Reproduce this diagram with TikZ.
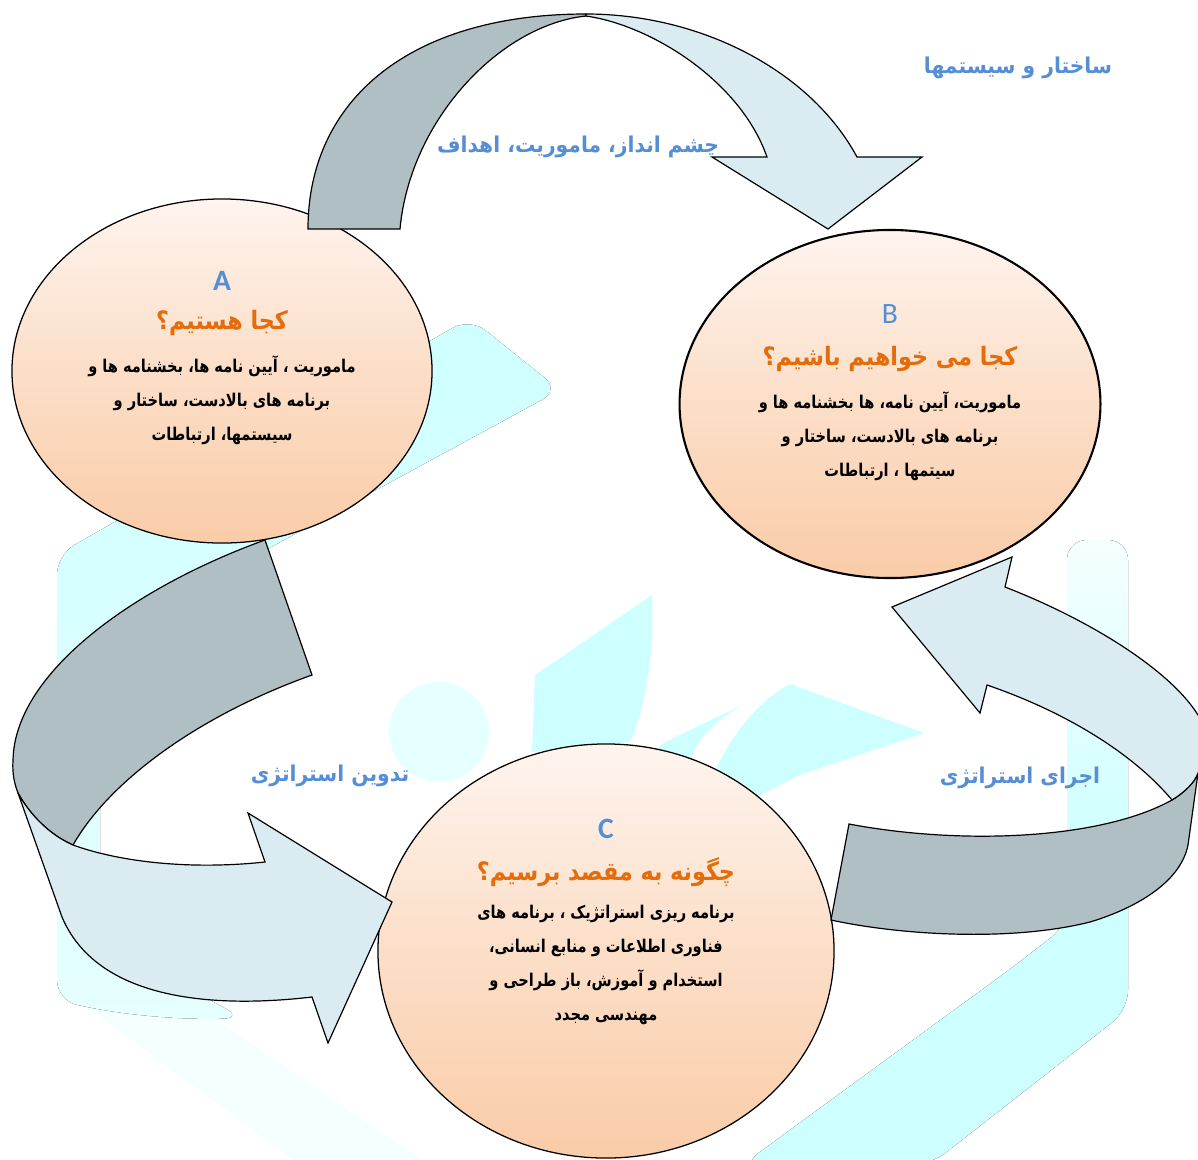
\documentclass[tikz,border=0pt]{standalone}
\usepackage{fontspec}
\usetikzlibrary{shapes.geometric}
\TeXXeTstate=1
\newfontfamily\fa[Script=Arabic]{DejaVu Sans}
\newfontfamily\fabody[Script=Arabic, FakeStretch=0.83]{DejaVu Sans}
\newfontfamily\fatitle[Script=Arabic, FakeStretch=0.88]{DejaVu Sans}
\newfontfamily\falabel[Script=Arabic, FakeStretch=0.93]{DejaVu Sans}
\newfontfamily\lat{Carlito}
\newcommand{\rl}[1]{\beginR #1\endR}
\definecolor{darkrib}{RGB}{175,191,195}
\definecolor{lightrib}{RGB}{218,236,242}
\definecolor{lblue}{RGB}{85,142,213}
\definecolor{ttlorange}{RGB}{228,108,10}
\definecolor{peachtop}{RGB}{254,244,238}
\definecolor{peachbot}{RGB}{250,204,168}
\definecolor{wm}{RGB}{206,255,255}
\definecolor{wmlight}{RGB}{230,255,255}
\definecolor{wmfaint}{RGB}{245,255,255}
\tikzset{
  bubble/.style={ellipse, draw=black, line width=0.9pt, inner sep=0pt, top color=peachtop, bottom color=peachbot, middle color=peachbot!55!peachtop},
  ribdark/.style={fill=darkrib, draw=black, line width=0.85pt, line join=miter},
  riblight/.style={fill=lightrib, draw=black, line width=0.85pt, line join=miter},
  letter/.style={text=lblue, font=\lat\bfseries\fontsize{21}{24}\selectfont},
  qtitle/.style={text=ttlorange, font=\fatitle\bfseries\fontsize{18}{22}\selectfont},
  bodytxt/.style={text=black, align=center, font=\fabody\bfseries\fontsize{12.5}{24}\selectfont},
  steplabel/.style={text=lblue, font=\falabel\bfseries\fontsize{15.5}{18}\selectfont}
}
\begin{document}
\begin{tikzpicture}[x=0.025cm, y=-0.025cm]
\useasboundingbox (0,0) rectangle (1198,1159);
\clip (0,0) rectangle (1198,1159);
\fill[white] (0,0) rectangle (1198,1159);
% watermark
\fill[wmfaint] (57,985) -- (300,1165) -- (430,1165) -- (150,975) -- cycle;
\fill[rounded corners=14pt, top color=wm, bottom color=wmlight] (470,318) -- (57,555) -- (57,1000) .. controls (120,1015) and (180,1020) .. (243,1018) -- (100,940) -- (100,640) -- (560,390) -- cycle;
\fill[rounded corners=14pt, top color=wmfaint, bottom color=wm, middle color=wm] (1067,540) -- (1128,540) -- (1128,1010) -- (930,1165) -- (742,1165) -- (1013,967) -- (1067,925) -- cycle;
\fill[wmlight] (439,732) circle (50);
\fill[wm] (535,675) -- (652,595) -- (652,640) .. controls (648,690) and (640,720) .. (630,742) -- (532,752) -- cycle;
\fill[wm] (742,705) .. controls (710,725) and (690,745) .. (690,770) -- (640,770) -- (663,743) -- cycle;
\fill[wm] (790,684) -- (924,733) -- (800,775) -- (730,810) -- (715,770) .. controls (735,730) and (760,700) .. (790,684) -- cycle;
% bubbles
\node[bubble, minimum width=10.5cm, minimum height=8.6cm] (A) at (222,371) {};
\node[bubble, line width=1.5pt, minimum width=10.52cm, minimum height=8.7cm] (B) at (890,404) {};
\node[bubble, minimum width=11.4cm, minimum height=10.35cm] (C) at (606,951) {};
% top arrow A -> B
\path[ribdark] (308,229) .. controls (308,100) and (410,14) .. (586,14) -- (586,16) .. controls (500,25) and (410,120) .. (400,229) -- cycle;
\path[riblight] (586,14) .. controls (700,14) and (810,70) .. (857,157) -- (922,157) -- (828,229) -- (712,157) -- (767,157) .. controls (740,80) and (650,25) .. (586,16) -- cycle;
% left arrow A -> C
\path[ribdark] (265,540) .. controls (140,585) and (15,670) .. (13,760) .. controls (12,775) and (15,785) .. (18,793) .. controls (30,815) and (50,835) .. (73,845) .. controls (110,780) and (200,715) .. (312,675) -- cycle;
\path[riblight] (18,793) .. controls (30,815) and (50,835) .. (73,845) .. controls (120,862) and (190,870) .. (265,862) -- (248,813) -- (392,902) -- (328,1043) -- (312,997) .. controls (200,1010) and (95,995) .. (62,917) -- cycle;
% right arrow C -> B
\path[ribdark] (849,824) .. controls (960,845) and (1100,840) .. (1172,800) .. controls (1185,792) and (1195,782) .. (1198,773) -- (1188,845) .. controls (1180,885) and (1130,910) .. (1090,922) .. controls (1010,942) and (900,935) .. (831,920) -- cycle;
\path[riblight] (1172,800) .. controls (1130,750) and (1060,710) .. (987,685) -- (980,713) -- (892,607) -- (1012,557) -- (1005,587) .. controls (1090,620) and (1170,670) .. (1198,715) .. controls (1215,740) and (1210,765) .. (1198,773) .. controls (1195,782) and (1185,792) .. (1172,800) -- cycle;
% bubble texts
\node[letter] (Alet) at (222,281) {A};
\node[qtitle] (Aq) at (222,323) {\rl{کجا هستیم؟}};
\node[bodytxt] (Ab) at (222,400) {\rl{ماموریت ، آیین نامه ها، بخشنامه ها و}\\\rl{برنامه های بالادست، ساختار و}\\\rl{سیستمها، ارتباطات}};
\node[letter, font=\lat\fontsize{21}{24}\selectfont] (Blet) at (890,314) {B};
\node[qtitle] (Bq) at (890,359) {\rl{کجا می خواهیم باشیم؟}};
\node[bodytxt] (Bb) at (890,436) {\rl{ماموریت، آیین نامه، ها بخشنامه ها و}\\\rl{برنامه های بالادست، ساختار و}\\\rl{سیتمها ، ارتباطات}};
\node[letter] (Clet) at (606,829) {C};
\node[qtitle] (Cq) at (606,872) {\rl{چگونه به مقصد برسیم؟}};
\node[bodytxt] (Cb) at (606,965) {\rl{برنامه ریزی استراتژیک ، برنامه های}\\\rl{فناوری اطلاعات و منابع انسانی،}\\\rl{استخدام و آموزش، باز طراحی و}\\\rl{مهندسی مجدد}};
% step labels
\node[steplabel] (L1) at (1018,68) {\rl{ساختار و سیستمها}};
\node[steplabel] (L2) at (578,147) {\rl{چشم انداز، ماموریت، اهداف}};
\node[steplabel] (L3) at (330,776) {\rl{تدوین استراتژی}};
\node[steplabel] (L4) at (1020,778) {\rl{اجرای استراتژی}};
\end{tikzpicture}
\end{document}
